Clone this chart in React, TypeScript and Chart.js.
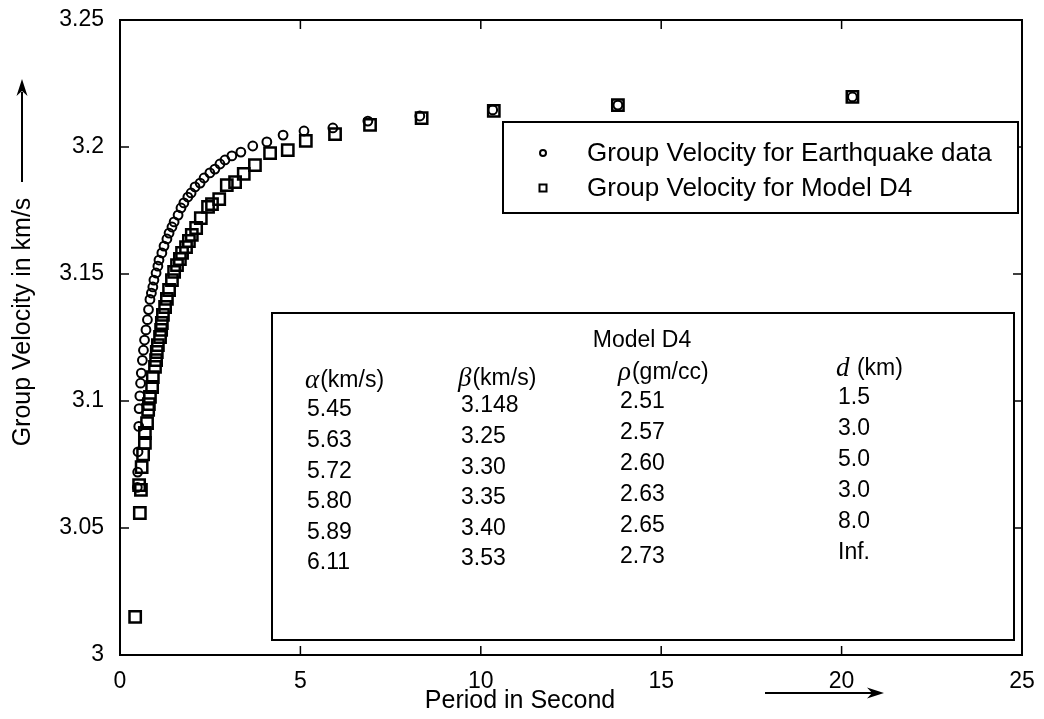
import React, { useEffect, useRef } from "react";
import { Chart, registerables } from "chart.js";

Chart.register(...registerables);

const FONT = '"Liberation Sans", Arial, Helvetica, sans-serif';
const SERIF = '"Liberation Serif", "DejaVu Serif", serif';

// ---- data ----
const quakePeriods = [
  20.3, 13.8, 10.33, 8.31, 6.87, 5.9, 5.1, 4.52, 4.07, 3.68, 3.35, 3.1, 2.91, 2.77,
  2.63, 2.49, 2.33, 2.22, 2.08, 1.97, 1.88, 1.77, 1.69, 1.61, 1.5, 1.44, 1.36, 1.3,
  1.22, 1.16, 1.08, 1.05, 1.0, 0.94, 0.91, 0.87, 0.83, 0.79, 0.76, 0.72, 0.68, 0.65,
  0.62, 0.59, 0.57, 0.55, 0.53, 0.52, 0.5, 0.49, 0.48,
];
const quakeVelocities = [
  3.2197, 3.2165, 3.2146, 3.2122, 3.2102, 3.2075, 3.2063, 3.2047, 3.202, 3.2004, 3.198,
  3.1965, 3.1949, 3.1933, 3.1913, 3.1898, 3.1878, 3.1858, 3.1843, 3.1819, 3.1803, 3.178,
  3.176, 3.1732, 3.1705, 3.1685, 3.1661, 3.1638, 3.161, 3.1583, 3.1555, 3.1531, 3.1504,
  3.1476, 3.1449, 3.1425, 3.14, 3.136, 3.132, 3.128, 3.124, 3.12, 3.116, 3.111, 3.107,
  3.102, 3.097, 3.09, 3.08, 3.072, 3.066,
];
const modelPeriods = [
  20.3, 13.8, 10.36, 8.36, 6.93, 5.96, 5.15, 4.65, 4.16, 3.74, 3.43, 3.19, 2.96, 2.75,
  2.55, 2.44, 2.24, 2.11, 1.99, 1.91, 1.83, 1.72, 1.66, 1.58, 1.5, 1.44, 1.36, 1.3,
  1.25, 1.19, 1.16, 1.14, 1.11, 1.05, 1.02, 1.0, 0.97, 0.91, 0.89, 0.83, 0.8, 0.78,
  0.75, 0.69, 0.69, 0.64, 0.6, 0.53, 0.58, 0.55, 0.42,
];
const modelVelocities = [
  3.2197, 3.2165, 3.2142, 3.2114, 3.2087, 3.2051, 3.2024, 3.1988, 3.1976, 3.1929, 3.1894,
  3.1862, 3.185, 3.1795, 3.1775, 3.1764, 3.172, 3.1681, 3.1654, 3.163, 3.1606, 3.1583,
  3.1559, 3.1535, 3.1508, 3.1476, 3.1437, 3.1402, 3.137, 3.1339, 3.1307, 3.128, 3.1252,
  3.122, 3.1193, 3.1161, 3.1134, 3.1094, 3.1055, 3.1016, 3.0988, 3.0965, 3.0913, 3.0874,
  3.0835, 3.079, 3.074, 3.0669, 3.065, 3.0559, 3.015,
];

const seriesLabels = ["Group Velocity for Earthquake data", "Group Velocity for Model D4"];
const xTicks = [0, 5, 10, 15, 20, 25];
const yTicks = [3, 3.05, 3.1, 3.15, 3.2, 3.25];
const yTickLabels = ["3", "3.05", "3.1", "3.15", "3.2", "3.25"];
const xTitle = "Period in Second";
const yTitle = "Group Velocity in km/s";

const tableTitle = "Model D4";
const tableSymbols = ["α", "β", "ρ", "d"];
const tableUnits = ["(km/s)", "(km/s)", "(gm/cc)", " (km)"];
const alphaCol = ["5.45", "5.63", "5.72", "5.80", "5.89", "6.11"];
const betaCol = ["3.148", "3.25", "3.30", "3.35", "3.40", "3.53"];
const rhoCol = ["2.51", "2.57", "2.60", "2.63", "2.65", "2.73"];
const dCol = ["1.5", "3.0", "5.0", "3.0", "8.0", "Inf."];

function drawArrowHead(ctx: CanvasRenderingContext2D, x: number, y: number, dx: number, dy: number) {
  const len = 17;
  const half = 5.5;
  const px = -dy, py = dx;
  ctx.beginPath();
  ctx.moveTo(x, y);
  ctx.lineTo(x - dx * len + px * half, y - dy * len + py * half);
  ctx.lineTo(x - dx * len * 0.7, y - dy * len * 0.7);
  ctx.lineTo(x - dx * len - px * half, y - dy * len - py * half);
  ctx.closePath();
  ctx.fill();
}

const overlayPlugin = {
  id: "overlay",
  afterDraw(chart: any) {
    const ctx: CanvasRenderingContext2D = chart.ctx;
    const { left, right, top, bottom } = chart.chartArea;
    const xs = chart.scales.x;
    const ys = chart.scales.y;
    ctx.save();
    ctx.strokeStyle = "#000";
    ctx.fillStyle = "#000";

    // frame
    ctx.lineWidth = 2;
    ctx.strokeRect(left, top, right - left, bottom - top);

    // inward ticks on all sides
    ctx.lineWidth = 1.5;
    ctx.beginPath();
    xTicks.forEach((t) => {
      const px = xs.getPixelForValue(t);
      ctx.moveTo(px, bottom);
      ctx.lineTo(px, bottom - 9);
      ctx.moveTo(px, top);
      ctx.lineTo(px, top + 9);
    });
    yTicks.forEach((t) => {
      const py = ys.getPixelForValue(t);
      ctx.moveTo(left, py);
      ctx.lineTo(left + 9, py);
      ctx.moveTo(right, py);
      ctx.lineTo(right - 9, py);
    });
    ctx.stroke();

    // legend box
    const lx = 503, ly = 122, lw = 515, lh = 91;
    ctx.fillStyle = "#fff";
    ctx.fillRect(lx, ly, lw, lh);
    ctx.fillStyle = "#000";
    ctx.lineWidth = 2;
    ctx.strokeRect(lx, ly, lw, lh);
    ctx.font = `26px ${FONT}`;
    ctx.textBaseline = "middle";
    ctx.textAlign = "left";
    ctx.lineWidth = 2;
    ctx.beginPath();
    ctx.arc(543, 153, 3, 0, Math.PI * 2);
    ctx.stroke();
    ctx.strokeRect(539.5, 184.5, 7, 7);
    ctx.fillText(seriesLabels[0], 587, 154);
    ctx.fillText(seriesLabels[1], 587, 189);

    // table box
    const tx = 272, ty = 313, tw = 742, th = 327;
    ctx.fillStyle = "#fff";
    ctx.fillRect(tx, ty, tw, th);
    ctx.fillStyle = "#000";
    ctx.lineWidth = 2;
    ctx.strokeRect(tx, ty, tw, th);

    ctx.font = `23px ${FONT}`;
    ctx.textAlign = "center";
    ctx.fillText(tableTitle, 642, 341);

    const colX = [305, 458, 618, 836];
    const headY = [381, 379, 373, 369];
    ctx.textAlign = "left";
    tableSymbols.forEach((s, i) => {
      ctx.font = `italic 27px ${SERIF}`;
      ctx.fillText(s, colX[i], headY[i]);
      const w = ctx.measureText(s).width;
      ctx.font = `23px ${FONT}`;
      ctx.fillText(tableUnits[i], colX[i] + w + 1, headY[i]);
    });

    const cols = [alphaCol, betaCol, rhoCol, dCol];
    const colStartX = [307, 461, 620, 838];
    const rowY0 = [410, 406, 402, 398];
    const rowStep = [30.6, 30.6, 31.0, 31.0];
    ctx.font = `23px ${FONT}`;
    cols.forEach((col, c) => {
      col.forEach((txt, r) => {
        ctx.fillText(txt, colStartX[c], rowY0[c] + r * rowStep[c]);
      });
    });

    // axis titles with arrows
    ctx.font = `25px ${FONT}`;
    ctx.textAlign = "center";
    ctx.fillText(xTitle, 520, 701);
    ctx.lineWidth = 2;
    ctx.beginPath();
    ctx.moveTo(765, 693);
    ctx.lineTo(872, 693);
    ctx.stroke();
    drawArrowHead(ctx, 884, 693, 1, 0);

    ctx.save();
    ctx.translate(23, 322);
    ctx.rotate(-Math.PI / 2);
    ctx.fillText(yTitle, 0, 0);
    ctx.restore();
    ctx.beginPath();
    ctx.moveTo(22, 182);
    ctx.lineTo(22, 92);
    ctx.stroke();
    drawArrowHead(ctx, 22, 79, 0, -1);

    ctx.restore();
  },
};

export default function App() {
  const ref = useRef<HTMLCanvasElement>(null);
  useEffect(() => {
    const canvas = ref.current;
    if (!canvas) return;
    const chart = new Chart(canvas, {
      type: "scatter",
      data: {
        datasets: [
          {
            label: seriesLabels[0],
            data: quakePeriods.map((x, i) => ({ x, y: quakeVelocities[i] })),
            pointStyle: "circle",
            pointRadius: 4.4,
            pointBorderWidth: 2,
            borderColor: "#000",
            backgroundColor: "rgba(0,0,0,0)",
            showLine: false,
          },
          {
            label: seriesLabels[1],
            data: modelPeriods.map((x, i) => ({ x, y: modelVelocities[i] })),
            pointStyle: "rect",
            pointRadius: 8,
            pointBorderWidth: 2.5,
            borderColor: "#000",
            backgroundColor: "rgba(0,0,0,0)",
            showLine: false,
          },
        ],
      },
      options: {
        responsive: false,
        animation: false,
        devicePixelRatio: 1,
        layout: { padding: { top: 20, right: 22, left: 0, bottom: 0 } },
        plugins: { legend: { display: false }, tooltip: { enabled: false } },
        scales: {
          x: {
            type: "linear",
            min: 0,
            max: 25,
            afterFit: (s: any) => {
              s.height = 64;
              s.paddingLeft = 0;
              s.paddingRight = 0;
            },
            afterBuildTicks: (s: any) => {
              s.ticks = xTicks.map((v) => ({ value: v }));
            },
            grid: { display: false, drawTicks: false },
            border: { display: false },
            ticks: {
              font: { family: FONT, size: 23 },
              color: "#000",
              padding: 13,
              maxRotation: 0,
              autoSkip: false,
            },
          },
          y: {
            type: "linear",
            min: 3,
            max: 3.25,
            afterFit: (s: any) => {
              s.width = 120;
              s.paddingTop = 0;
              s.paddingBottom = 0;
            },
            afterBuildTicks: (s: any) => {
              s.ticks = yTicks.map((v) => ({ value: v }));
            },
            grid: { display: false, drawTicks: false },
            border: { display: false },
            ticks: {
              font: { family: FONT, size: 23 },
              color: "#000",
              padding: 16,
              autoSkip: false,
              callback: (_v: any, i: number) => yTickLabels[i],
            },
          },
        },
      },
      plugins: [overlayPlugin],
    });
    return () => chart.destroy();
  }, []);
  return (
    <div style={{ position: "absolute", left: 0, top: 0, width: 1044, height: 719, background: "#fff" }}>
      <canvas ref={ref} width={1044} height={719} style={{ display: "block" }} />
    </div>
  );
}
